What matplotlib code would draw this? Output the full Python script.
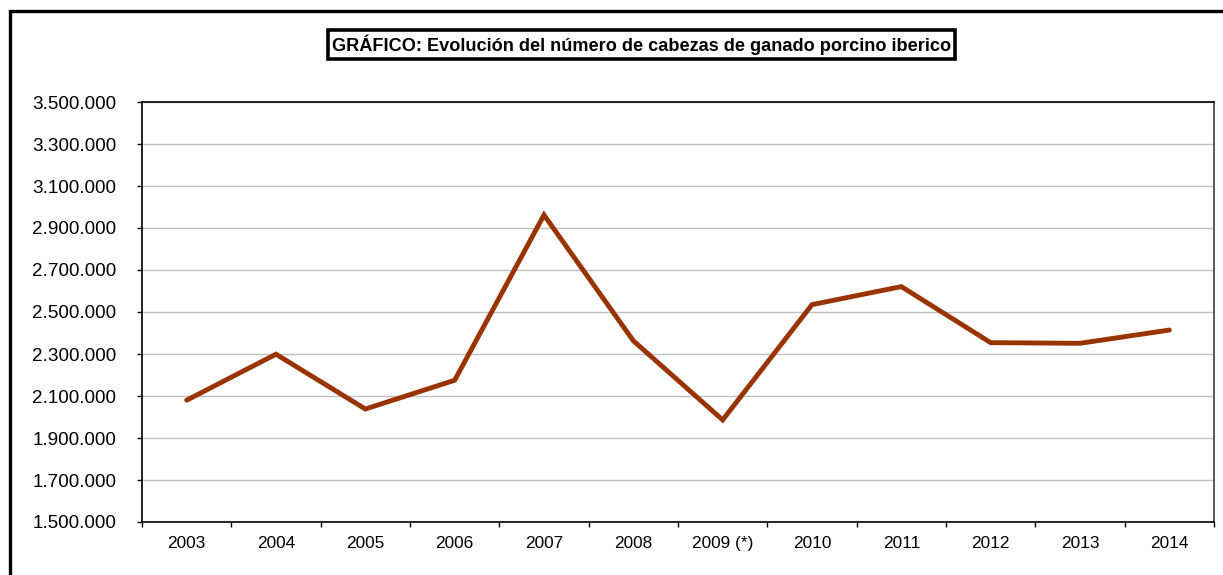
import matplotlib
matplotlib.use("Agg")
import matplotlib.pyplot as plt
from matplotlib.patches import Rectangle
from matplotlib.ticker import FuncFormatter, FixedLocator

plt.rcParams['font.family'] = ['Liberation Sans', 'DejaVu Sans']

years = ["2003", "2004", "2005", "2006", "2007", "2008", "2009 (*)",
         "2010", "2011", "2012", "2013", "2014"]
cabezas = [2080000, 2299000, 2038000, 2175000, 2962000, 2363000, 1986000,
           2535000, 2621000, 2354000, 2351000, 2414000]
yticks = list(range(1500000, 3500001, 200000))
title = "GRÁFICO: Evolución del número de cabezas de ganado porcino iberico"

W, H = 1223, 575
fig = plt.figure(figsize=(W / 100, H / 100), dpi=100)
fig.patch.set_facecolor("white")

# outer frame (extends beyond right and bottom edges)
fig.patches.append(Rectangle((9.5 / W, -0.2), 2.0, 1 - 11 / H + 0.2,
                             transform=fig.transFigure, fill=False,
                             edgecolor="black", linewidth=2.4, zorder=0))

ax = fig.add_axes([142 / W, 1 - 522 / H, (1214 - 142) / W, (522 - 102) / H])
x = list(range(len(years)))
ax.plot(x, cabezas, color="#993300", linewidth=3.5, solid_capstyle="round",
        solid_joinstyle="miter", zorder=3)

ax.set_xlim(-0.5, len(years) - 0.5)
ax.set_ylim(yticks[0], yticks[-1])
ax.set_yticks(yticks)
ax.yaxis.set_major_formatter(FuncFormatter(lambda v, p: f"{int(v):,}".replace(",", ".")))
ax.grid(axis="y", color="#c0c0c0", linewidth=1.0, zorder=0)
ax.set_axisbelow(True)

ax.set_xticks(x)
ax.set_xticklabels(years)
ax.xaxis.set_minor_locator(FixedLocator([i - 0.5 for i in range(len(years) + 1)]))
ax.tick_params(axis="x", which="major", length=0, pad=10, labelsize=12.4, colors="black")
ax.tick_params(axis="x", which="minor", length=3.6, width=1, direction="out", color="black")
ax.tick_params(axis="y", length=3.6, width=1, direction="out", pad=15, labelsize=13.6, colors="black")

for s in ["left", "bottom", "top"]:
    ax.spines[s].set_color("black")
    ax.spines[s].set_linewidth(1.2)
ax.spines["right"].set_color("#404040")
ax.spines["right"].set_linewidth(1.2)

fig.text(641.5 / W, 1 - 44.5 / H, title, ha="center", va="center",
         fontsize=13.1, fontweight="bold", color="black",
         bbox=dict(boxstyle="square,pad=0.22", facecolor="white",
                   edgecolor="black", linewidth=2.6))

fig.savefig("out.png", dpi=100, facecolor="white")
